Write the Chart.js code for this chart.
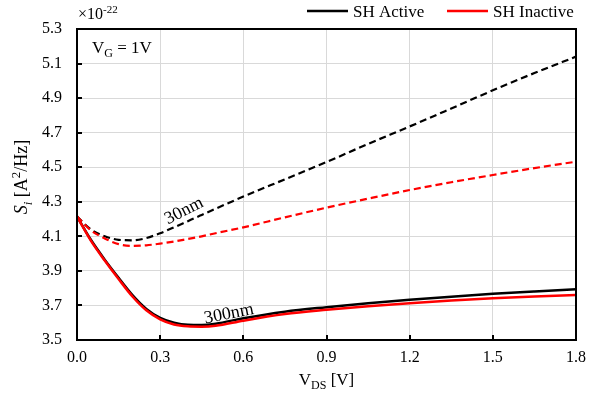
<!DOCTYPE html>
<html>
<head>
<meta charset="utf-8">
<script src="https://cdn.jsdelivr.net/npm/chart.js@4.4.0/dist/chart.umd.min.js"></script>
<style>
  html, body { margin: 0; padding: 0; background: #fff; }
  canvas { display: block; }
</style>
</head>
<body>
<canvas id="noiseChart" width="603" height="396"></canvas>
<script>
// V_DS sweep points (V)
const vds = [0, 0.05, 0.1, 0.15, 0.2, 0.25, 0.3, 0.35, 0.4, 0.45, 0.5, 0.6, 0.75, 0.9, 1.05, 1.2, 1.35, 1.5, 1.65, 1.8];

// S_i values in units of 1e-22 A^2/Hz
const active300 =   [4.215, 4.08, 3.965, 3.86, 3.76, 3.68, 3.628, 3.6, 3.588, 3.587, 3.594, 3.626, 3.664, 3.69, 3.713, 3.733, 3.751, 3.767, 3.781, 3.794];
const inactive300 = [4.215, 4.075, 3.96, 3.853, 3.752, 3.672, 3.62, 3.59, 3.579, 3.577, 3.582, 3.612, 3.65, 3.675, 3.696, 3.713, 3.728, 3.741, 3.752, 3.761];
const active30 =    [4.215, 4.14, 4.1, 4.08, 4.077, 4.09, 4.118, 4.152, 4.188, 4.224, 4.26, 4.33, 4.43, 4.53, 4.635, 4.736, 4.84, 4.945, 5.045, 5.14];
const inactive30 =  [4.215, 4.135, 4.088, 4.055, 4.045, 4.048, 4.058, 4.07, 4.085, 4.1, 4.118, 4.152, 4.21, 4.266, 4.318, 4.368, 4.413, 4.455, 4.495, 4.532];

const xTicks = [0, 0.3, 0.6, 0.9, 1.2, 1.5, 1.8];
const yTicks = [3.5, 3.7, 3.9, 4.1, 4.3, 4.5, 4.7, 4.9, 5.1, 5.3];

const FONT = '"Liberation Serif", "Times New Roman", serif';

function pts(ys) {
    return vds.map((x, i) => ({ x: x, y: ys[i] }));
}

// draw a run of text pieces, some sub/superscript or italic
function richText(ctx, parts, x, y, align, size) {
    size = size || 16;
    const small = Math.round(size * 0.7);
    const fontOf = p => (p.it ? 'italic ' : '') + (p.sub || p.sup ? small : size) + 'px ' + FONT;
    let widths = parts.map(p => {
        ctx.font = fontOf(p);
        return ctx.measureText(p.t).width;
    });
    let total = widths.reduce((a, b) => a + b, 0);
    let cx = align === 'center' ? x - total / 2 : x;
    ctx.textAlign = 'left';
    ctx.textBaseline = 'alphabetic';
    parts.forEach((p, i) => {
        ctx.font = fontOf(p);
        let dy = p.sub ? size * 0.25 : (p.sup ? -size * 0.38 : 0);
        ctx.fillText(p.t, cx, y + dy);
        cx += widths[i];
    });
}

const decorations = {
    id: 'decorations',
    afterDraw(chart) {
        const ctx = chart.ctx;
        const a = chart.chartArea;
        const xs = chart.scales.x, ys = chart.scales.y;
        ctx.save();
        ctx.fillStyle = '#000';
        ctx.strokeStyle = '#000';

        // plot frame
        ctx.lineWidth = 2;
        ctx.strokeRect(a.left, a.top, a.right - a.left, a.bottom - a.top);

        // inward tick marks
        ctx.beginPath();
        yTicks.forEach(v => {
            const py = Math.round(ys.getPixelForValue(v));
            ctx.moveTo(a.left, py);
            ctx.lineTo(a.left + 5, py);
        });
        xTicks.forEach(v => {
            const px = Math.round(xs.getPixelForValue(v));
            ctx.moveTo(px, a.bottom);
            ctx.lineTo(px, a.bottom - 5);
        });
        ctx.stroke();

        // legend
        const legend = [
            { label: 'SH Active', color: '#000', x: 307 },
            { label: 'SH Inactive', color: '#ff0000', x: 447 }
        ];
        legend.forEach(l => {
            ctx.strokeStyle = l.color;
            ctx.lineWidth = 2.5;
            ctx.beginPath();
            ctx.moveTo(l.x, 11);
            ctx.lineTo(l.x + 41, 11);
            ctx.stroke();
            ctx.font = '17px ' + FONT;
            ctx.textAlign = 'left';
            ctx.textBaseline = 'alphabetic';
            ctx.fillText(l.label, l.x + 46, 17);
        });

        // exponent and condition labels
        richText(ctx, [{ t: '\u00d710' }, { t: '-22', sup: true }], 78, 19, 'left', 16);
        richText(ctx, [{ t: 'V' }, { t: 'G', sub: true }, { t: ' = 1V' }], 92, 53, 'left', 17);

        // axis titles
        richText(ctx, [{ t: 'V' }, { t: 'DS', sub: true }, { t: ' [V]' }], (a.left + a.right) / 2, 385, 'center', 17);
        ctx.save();
        ctx.translate(27, 177);
        ctx.rotate(-Math.PI / 2);
        richText(ctx, [{ t: 'S', it: true }, { t: 'i', it: true, sub: true }, { t: ' [A' }, { t: '2', sup: true }, { t: '/Hz]' }], 0, 0, 'center', 18);
        ctx.restore();

        // curve labels
        ctx.font = '18px ' + FONT;
        ctx.textAlign = 'center';
        ctx.textBaseline = 'middle';
        ctx.save();
        ctx.translate(184, 211);
        ctx.rotate(-27 * Math.PI / 180);
        ctx.fillText('30nm', 0, 0);
        ctx.restore();
        ctx.save();
        ctx.translate(229, 314);
        ctx.rotate(-11 * Math.PI / 180);
        ctx.fillText('300nm', 0, 0);
        ctx.restore();

        ctx.restore();
    }
};

new Chart(document.getElementById('noiseChart'), {
    type: 'line',
    data: {
        datasets: [
            { label: 'SH Inactive', data: pts(inactive300), borderColor: '#ff0000', borderWidth: 2.5 },
            { label: 'SH Inactive 30nm', data: pts(inactive30), borderColor: '#ff0000', borderWidth: 2.2, borderDash: [7, 4] },
            { label: 'SH Active', data: pts(active300), borderColor: '#000000', borderWidth: 2.5 },
            { label: 'SH Active 30nm', data: pts(active30), borderColor: '#000000', borderWidth: 2.2, borderDash: [7, 4] }
        ]
    },
    options: {
        responsive: false,
        animation: false,
        layout: { padding: { left: 0, top: 29, right: 27, bottom: 0 } },
        elements: {
            point: { radius: 0 },
            line: { cubicInterpolationMode: 'monotone', fill: false }
        },
        plugins: {
            legend: { display: false },
            tooltip: { enabled: false }
        },
        scales: {
            x: {
                type: 'linear',
                min: 0,
                max: 1.8,
                afterFit: s => { s.height = 56; },
                afterBuildTicks: s => { s.ticks = xTicks.map(v => ({ value: v })); },
                ticks: {
                    padding: 8,
                    color: '#000',
                    font: { family: FONT, size: 16 },
                    callback: v => v.toFixed(1)
                },
                grid: { color: '#d9d9d9', lineWidth: 1, drawTicks: false },
                border: { display: false }
            },
            y: {
                min: 3.5,
                max: 5.3,
                afterFit: s => { s.width = 77; },
                afterBuildTicks: s => { s.ticks = yTicks.map(v => ({ value: v })); },
                ticks: {
                    padding: 15,
                    color: '#000',
                    font: { family: FONT, size: 16 },
                    callback: v => v.toFixed(1)
                },
                grid: { color: '#d9d9d9', lineWidth: 1, drawTicks: false },
                border: { display: false }
            }
        }
    },
    plugins: [decorations]
});
</script>
</body>
</html>
